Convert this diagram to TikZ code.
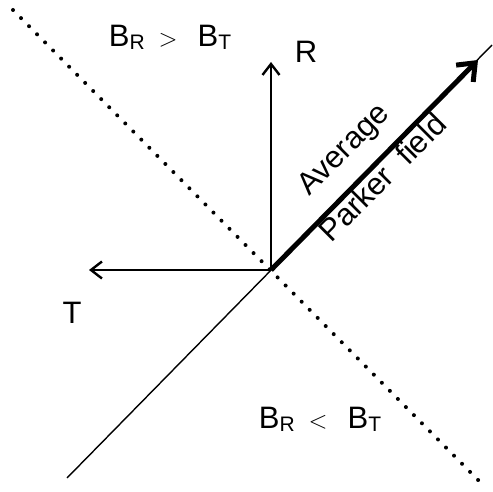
\documentclass[tikz,border=0pt]{standalone}
\usepackage{fontspec}
\setmainfont{Liberation Sans}
\usetikzlibrary{positioning,arrows.meta}
\newcommand{\lowsub}[1]{\raisebox{-3pt}{\fontsize{21}{21}\selectfont #1}}
\newcommand{\cmpsym}[1]{\hspace{14pt}{\fontsize{35}{35}\selectfont$#1$}\hspace{20pt}}
\tikzset{
  axis/.style={-{Straight Barb[length=11pt,width=17pt]},line width=2.4pt},
  mean/.style={-{Straight Barb[length=15pt,width=24pt]},line width=5pt},
  sep/.style={line width=1.4pt},
  bound/.style={line width=4pt,line cap=round,dash pattern=on 0pt off 11.4pt},
  lbl/.style={inner sep=0pt,anchor=base,font=\fontsize{31}{36}\selectfont},
}

\begin{document}
\begin{tikzpicture}[x=1pt,y=1pt]
  \useasboundingbox (0,0) rectangle (493,491);
  % origin of the R--T frame
  \coordinate (o) at (271,221);
  % line along the field and the boundary between the two regions
  \coordinate (sw) at (67,13);
  \coordinate (ne) at (492,446);
  \coordinate (nw) at (13,481);
  \coordinate (se) at (485,4);
  \draw[sep] (sw) -- (ne);
  \draw[bound] (nw) -- (se);
  % axes
  \coordinate (rtip) at (271,429);
  \coordinate (ttip) at (89,221);
  \draw[axis] (o) -- (rtip);
  \draw[axis] (o) -- (ttip);
  \node[lbl] (r) at (306,428) {R};
  \node[lbl] (t) at (72,168) {T};
  % average field
  \coordinate (ptip) at (478,431);
  \draw[mean] (o) -- (ptip);
  \node[lbl,rotate=45] (avg) at (350,335) {Average};
  \node[lbl,rotate=45] (pf) at (390,306) {Parker\hspace{8pt} field};
  % regions
  \node[lbl] (gt) at (170,444) {B\lowsub{R}\cmpsym{>}B\lowsub{T}};
  \node[lbl] (lt) at (320,63) {B\lowsub{R}\cmpsym{<}B\lowsub{T}};
\end{tikzpicture}
\end{document}
